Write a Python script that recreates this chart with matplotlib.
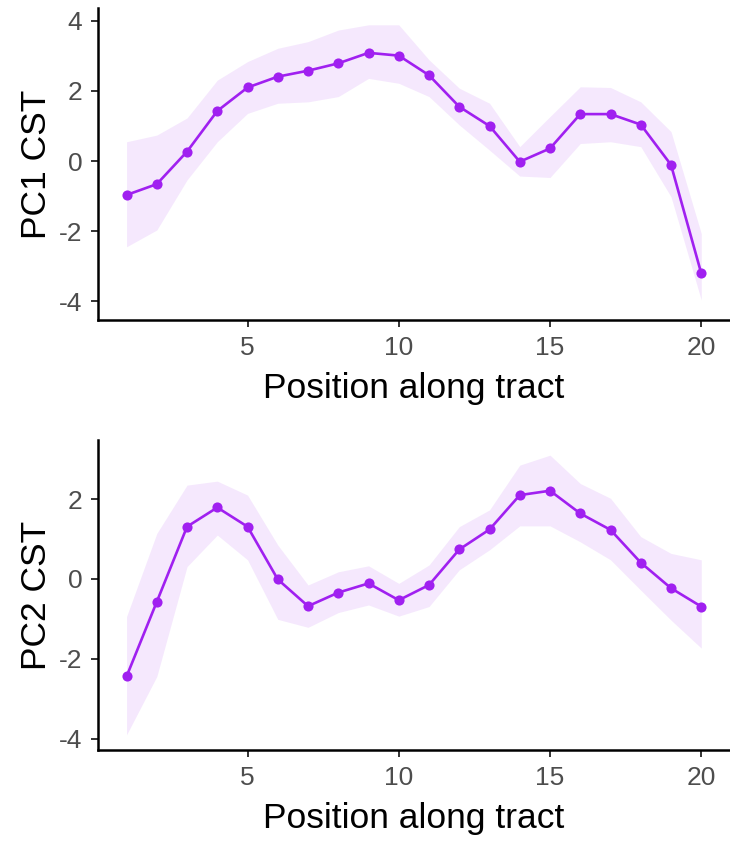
import numpy as np
import matplotlib
matplotlib.use("Agg")
import matplotlib.pyplot as plt

plt.rcParams['font.family'] = ['Liberation Sans', 'DejaVu Sans']
plt.rcParams['axes.unicode_minus'] = False

position = np.arange(1, 21)

pc1_mean = [-0.97, -0.66, 0.27, 1.43, 2.10, 2.41, 2.58, 2.79, 3.09, 3.01,
            2.45, 1.55, 1.00, -0.02, 0.36, 1.34, 1.34, 1.04, -0.11, -3.21]
pc1_upper = [0.55, 0.74, 1.23, 2.31, 2.84, 3.22, 3.41, 3.74, 3.89, 3.89,
             2.89, 2.08, 1.65, 0.41, 1.27, 2.12, 2.10, 1.69, 0.84, -2.07]
pc1_lower = [-2.45, -1.97, -0.54, 0.55, 1.36, 1.65, 1.69, 1.84, 2.36, 2.22,
             1.84, 1.03, 0.31, -0.43, -0.47, 0.50, 0.55, 0.41, -1.02, -3.97]

pc2_mean = [-2.44, -0.57, 1.31, 1.79, 1.31, -0.01, -0.68, -0.34, -0.11, -0.53,
            -0.15, 0.74, 1.24, 2.10, 2.21, 1.64, 1.23, 0.41, -0.23, -0.69]
pc2_upper = [-0.94, 1.14, 2.35, 2.45, 2.10, 0.85, -0.15, 0.18, 0.33, -0.11,
             0.35, 1.31, 1.73, 2.85, 3.10, 2.39, 2.02, 1.06, 0.64, 0.48]
pc2_lower = [-3.90, -2.44, 0.31, 1.10, 0.48, -1.01, -1.21, -0.84, -0.65, -0.93,
             -0.69, 0.23, 0.73, 1.33, 1.33, 0.93, 0.48, -0.28, -1.03, -1.73]

y_labels = ["PC1 CST", "PC2 CST"]
x_label = "Position along tract"
x_ticks = [5, 10, 15, 20]
y_ticks = [-4, -2, 0, 2, 4]

purple = "#A020F0"

fig = plt.figure(figsize=(7.3, 8.44), dpi=100)
ax1 = fig.add_axes([0.134, 0.6209, 0.866, 0.3696])
ax2 = fig.add_axes([0.134, 0.1114, 0.866, 0.3673])

panels = [(ax1, pc1_mean, pc1_upper, pc1_lower, (-4.54, 4.37)),
          (ax2, pc2_mean, pc2_upper, pc2_lower, (-4.28, 3.48))]

for i, (ax, mean, upper, lower, ylim) in enumerate(panels):
    ax.fill_between(position, lower, upper, color=purple, alpha=0.1, linewidth=0)
    ax.plot(position, mean, color=purple, linewidth=1.9, marker='o',
            markersize=7.3, markeredgewidth=0)
    # ticks first, limits after (set_yticks would widen the view)
    ax.set_xticks(x_ticks)
    ax.set_yticks(y_ticks)
    ax.set_xlim(0.05, 20.95)
    ax.set_ylim(*ylim)
    for side in ['top', 'right']:
        ax.spines[side].set_visible(False)
    for side in ['left', 'bottom']:
        ax.spines[side].set_linewidth(1.8)
        ax.spines[side].set_color('black')
    ax.tick_params(axis='both', length=5.3, width=1.4, color='#333333',
                   labelsize=19, labelcolor='#4D4D4D', pad=6)
    ax.set_xlabel(x_label, fontsize=25.5, color='black', labelpad=9)
    ax.set_ylabel(y_labels[i], fontsize=25.5, color='black', labelpad=4)

fig.savefig("out.png", dpi=100)
